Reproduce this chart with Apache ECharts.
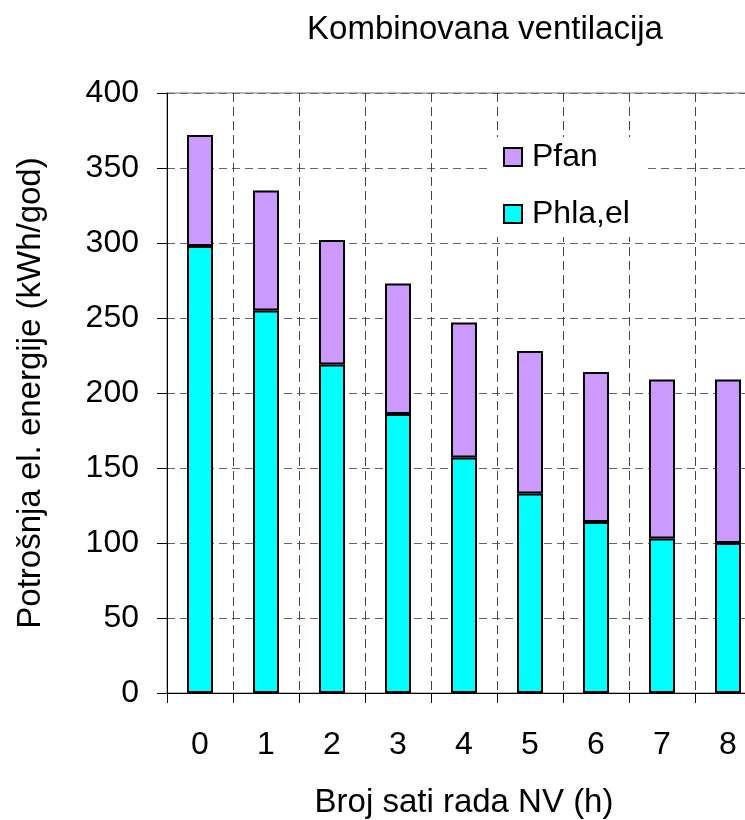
<!DOCTYPE html>
<html>
<head>
<meta charset="utf-8">
<script src="https://cdn.jsdelivr.net/npm/echarts@6/dist/echarts.min.js"></script>
<style>html,body{margin:0;padding:0;background:#fff;}#c{width:745px;height:820px;}</style>
</head>
<body>
<div id="c"></div>
<script>
const categories = ['0','1','2','3','4','5','6','7','8'];
const phlaEl = [298, 255, 219, 186, 157, 133, 114, 103, 100];
const pfan = [74, 80, 83, 87, 90, 95, 100, 106, 109];
const yTicks = {min: 0, max: 400, interval: 50};
const titleText = 'Kombinovana ventilacija';
const xName = 'Broj sati rada NV (h)';
const yName = 'Potrošnja el. energije (kWh/god)';

const FONT = '"Liberation Sans", Arial, sans-serif';
const chart = echarts.init(document.getElementById('c'), null, {renderer: 'canvas'});
chart.setOption({
  animation: false,
  backgroundColor: '#fff',
  textStyle: {fontFamily: FONT, color: '#000'},
  title: {
    text: titleText,
    left: 485, top: 13, textAlign: 'center', padding: 0,
    textStyle: {fontFamily: FONT, fontSize: 33, fontWeight: 'normal', color: '#000'}
  },
  legend: {
    orient: 'vertical',
    left: 490, top: 137,
    padding: [4, 15, 7, 13],
    backgroundColor: '#fff',
    itemGap: 25,
    itemWidth: 18, itemHeight: 18,
    icon: 'rect',
    data: ['Pfan', 'Phla,el'],
    textStyle: {fontFamily: FONT, fontSize: 32, color: '#000', padding: [0, 0, 0, 5]}
  },
  grid: {
    left: 167, top: 93, width: 594, height: 600,
    show: true, borderColor: '#777', borderWidth: 1, backgroundColor: 'transparent',
    containLabel: false,
    outerBoundsMode: 'none'
  },
  xAxis: {
    type: 'category',
    data: categories,
    name: xName,
    nameLocation: 'middle',
    nameGap: 93,
    nameTextStyle: {fontFamily: FONT, fontSize: 33, color: '#000'},
    axisLine: {lineStyle: {color: '#000', width: 1}},
    axisTick: {show: true, length: 10, inside: false, lineStyle: {color: '#000'}},
    axisLabel: {fontFamily: FONT, fontSize: 32, color: '#000', margin: 36},
    splitLine: {show: true, lineStyle: {color: '#444', type: [9, 5], width: 1}}
  },
  yAxis: {
    type: 'value',
    min: yTicks.min, max: yTicks.max, interval: yTicks.interval,
    name: yName,
    nameLocation: 'middle',
    nameGap: 120,
    nameRotate: 90,
    nameTextStyle: {fontFamily: FONT, fontSize: 33, color: '#000'},
    axisLine: {show: true, lineStyle: {color: '#000', width: 1}},
    axisTick: {show: true, length: 10, lineStyle: {color: '#000'}},
    axisLabel: {fontFamily: FONT, fontSize: 32, color: '#000', margin: 28},
    splitLine: {show: true, lineStyle: {color: '#666', type: [8, 5], width: 1}}
  },
  series: [
    {
      name: 'Phla,el', type: 'bar', stack: 'total', data: phlaEl,
      barWidth: 26,
      itemStyle: {color: '#00FFFF', borderColor: '#000', borderWidth: 2}
    },
    {
      name: 'Pfan', type: 'bar', stack: 'total', data: pfan,
      barWidth: 26,
      itemStyle: {color: '#CC99FF', borderColor: '#000', borderWidth: 2}
    }
  ]
});
</script>
</body>
</html>
